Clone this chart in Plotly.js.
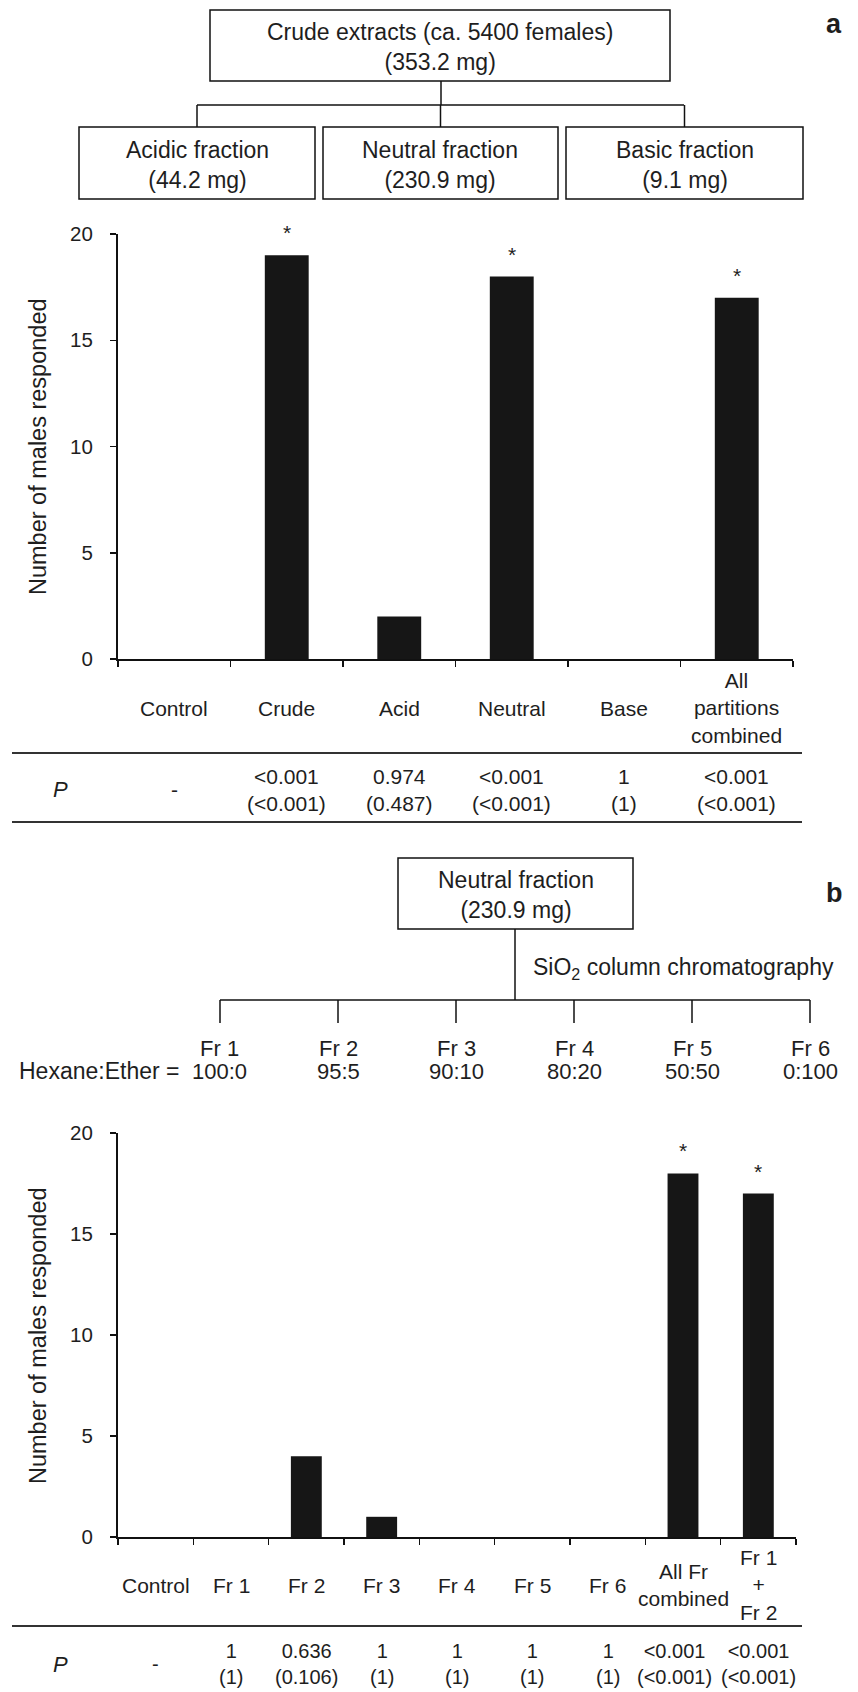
<!DOCTYPE html>
<html>
<head>
<meta charset="utf-8">
<script src="https://cdn.plot.ly/plotly-3.0.1.min.js"></script>
<style>html,body{margin:0;padding:0;background:#fff;}#chart{width:858px;height:1692px;}</style>
</head>
<body>
<div id="chart"></div>
<script>
// ---------- DATA ----------
// Panel a
const catsA = ['Control', 'Crude', 'Acid', 'Neutral', 'Base', 'All partitions combined'];
const labelsA = ['Control', 'Crude', 'Acid', 'Neutral', 'Base', 'All<br>partitions<br>combined'];
const valsA = [0, 19, 2, 18, 0, 17];
const sigA = ['', '*', '', '*', '', '*'];
const pA = ['-', '<0.001', '0.974', '<0.001', '1', '<0.001'];
const pAadj = ['', '(<0.001)', '(0.487)', '(<0.001)', '(1)', '(<0.001)'];
const topBoxA = ['Crude extracts (ca. 5400 females)', '(353.2 mg)'];
const subBoxesA = [['Acidic fraction', '(44.2 mg)'], ['Neutral fraction', '(230.9 mg)'], ['Basic fraction', '(9.1 mg)']];

// Panel b
const catsB = ['Control', 'Fr 1', 'Fr 2', 'Fr 3', 'Fr 4', 'Fr 5', 'Fr 6', 'All Fr combined', 'Fr 1 + Fr 2'];
const labelsB = ['Control', 'Fr 1', 'Fr 2', 'Fr 3', 'Fr 4', 'Fr 5', 'Fr 6', 'All Fr<br>combined', 'Fr 1<br>+<br>Fr 2'];
const valsB = [0, 0, 4, 1, 0, 0, 0, 18, 17];
const sigB = ['', '', '', '', '', '', '', '*', '*'];
const pB = ['-', '1', '0.636', '1', '1', '1', '1', '<0.001', '<0.001'];
const pBadj = ['', '(1)', '(0.106)', '(1)', '(1)', '(1)', '(1)', '(<0.001)', '(<0.001)'];
const topBoxB = ['Neutral fraction', '(230.9 mg)'];
const fractions = ['Fr 1', 'Fr 2', 'Fr 3', 'Fr 4', 'Fr 5', 'Fr 6'];
const solvents = ['100:0', '95:5', '90:10', '80:20', '50:50', '0:100'];

// ---------- LAYOUT HELPERS ----------
const W = 858, H = 1692;
const px = x => x / W;
const py = y => 1 - y / H;
const FONT = '"Liberation Sans", Arial, Helvetica, sans-serif';
const TXT = '#1e1e1e';
const esc = s => s.replace(/</g, '&lt;');

const shapes = [];
const annotations = [];
function line(x0, y0, x1, y1, w, c) {
  shapes.push({type: 'line', xref: 'paper', yref: 'paper', x0: px(x0), y0: py(y0), x1: px(x1), y1: py(y1),
    line: {color: c || '#111', width: w || 1.5}});
}
function rect(x0, y0, x1, y1) {
  shapes.push({type: 'rect', xref: 'paper', yref: 'paper', x0: px(x0), y0: py(y0), x1: px(x1), y1: py(y1),
    line: {color: '#111', width: 1.5}, fillcolor: 'rgba(0,0,0,0)'});
}
function text(t, x, y, opts) {
  opts = opts || {};
  annotations.push(Object.assign({text: t, xref: 'paper', yref: 'paper', x: px(x), y: py(y), showarrow: false,
    xanchor: 'center', yanchor: 'middle', font: {family: FONT, size: opts.size || 21, color: TXT}}, opts.extra || {}));
}

// ---------- PANEL a diagram ----------
rect(210, 10, 670, 81);
text(topBoxA.join('<br>'), 440, 47, {size: 23});
line(441, 81, 441, 105);
line(197, 105, 684, 105);
const subX = [[79, 315], [323, 558], [566, 803]];
subX.forEach((b, i) => {
  const cx = (b[0] + b[1]) / 2;
  line(cx, 105, cx, 127);
  rect(b[0], 127, b[1], 199);
  text(subBoxesA[i].join('<br>'), cx, 165, {size: 23});
});
text('<b>a</b>', 834, 24, {size: 27});

// ---------- PANEL b diagram ----------
rect(398, 858, 633, 929);
text(topBoxB.join('<br>'), 515.5, 895, {size: 23});
line(515, 929, 515, 1000);
text('SiO<sub>2</sub> column chromatography', 531, 969, {size: 23, extra: {xanchor: 'left'}});
const fracX = [220, 338, 456, 574, 692, 810];
line(fracX[0], 1000, fracX[fracX.length - 1], 1000);
fracX.forEach((x, i) => {
  line(x, 1000, x, 1023);
  text(fractions[i], x, 1048, {size: 22});
  text(solvents[i], x, 1071, {size: 22});
});
text('Hexane:Ether =', 181, 1071, {size: 23, extra: {xanchor: 'right'}});
text('<b>b</b>', 834, 893, {size: 27});

// ---------- Tables ----------
line(12, 753, 802, 753, 2, '#333');
line(12, 822, 802, 822, 2, '#333');
line(12, 1626, 802, 1626, 2, '#333');
text('<i>P</i>', 60, 789, {size: 22});
text('<i>P</i>', 60, 1664, {size: 22});

function panelAnnotations(cats, labels, vals, sig, p, padj, xa, ya, labelY, pY, pSize, pShift) {
  cats.forEach((c, i) => {
    annotations.push({text: labels[i], xref: xa, yref: 'paper', x: c, y: py(labelY), showarrow: false,
      xanchor: 'center', yanchor: 'middle', font: {family: FONT, size: 21, color: TXT}});
    const pt = padj[i] ? esc(p[i]) + '<br>' + esc(padj[i]) : esc(p[i]);
    annotations.push({text: pt, xref: xa, yref: 'paper', x: c, y: py(pY), showarrow: false,
      xanchor: 'center', yanchor: 'middle', xshift: pShift[i] || 0,
      font: {family: FONT, size: pSize, color: TXT}});
    if (sig[i]) {
      annotations.push({text: sig[i], xref: xa, yref: ya, x: c, y: vals[i], showarrow: false,
        xanchor: 'center', yanchor: 'bottom', yshift: 9, font: {family: FONT, size: 21, color: TXT}});
    }
  });
}
panelAnnotations(catsA, labelsA, valsA, sigA, pA, pAadj, 'x', 'y', 708, 790, 21, []);
panelAnnotations(catsB, labelsB, valsB, sigB, pB, pBadj, 'x2', 'y2', 1585, 1664, 20, [0, 0, 0, 0, 0, 0, 0, -9, 0]);

// y-axis titles
text('Number of males responded', 38, 447, {size: 23.5, extra: {textangle: -90}});
text('Number of males responded', 38, 1336, {size: 23.5, extra: {textangle: -90}});

// ---------- TRACES ----------
const traces = [
  {type: 'bar', x: catsA, y: valsA, xaxis: 'x', yaxis: 'y', width: 0.39,
    marker: {color: '#161616', line: {width: 0}}, hoverinfo: 'skip'},
  {type: 'bar', x: catsB, y: valsB, xaxis: 'x2', yaxis: 'y2', width: 0.41,
    marker: {color: '#161616', line: {width: 0}}, hoverinfo: 'skip'}
];

function xAxis(cats, domain, anchor) {
  return {type: 'category', categoryorder: 'array', categoryarray: cats, range: [-0.5, cats.length - 0.5],
    domain: domain, anchor: anchor, showticklabels: false, tickson: 'boundaries', ticks: 'outside',
    ticklen: 6, tickwidth: 1.5, tickcolor: '#111', showline: true, linecolor: '#111', linewidth: 2,
    showgrid: false, zeroline: false, fixedrange: true};
}
function yAxis(domain, anchor) {
  return {range: [0, 20], tickvals: [0, 5, 10, 15, 20], domain: domain, anchor: anchor, ticks: 'outside',
    ticklen: 6, tickwidth: 1.5, tickcolor: '#111', showline: true, linecolor: '#111', linewidth: 2,
    showgrid: false, zeroline: false, ticklabelstandoff: 13,
    tickfont: {family: FONT, size: 20.5, color: TXT}, fixedrange: true};
}

const layout = {
  width: W, height: H,
  margin: {l: 0, r: 0, t: 0, b: 0},
  paper_bgcolor: '#fff', plot_bgcolor: '#fff',
  showlegend: false,
  font: {family: FONT, color: TXT},
  xaxis: xAxis(catsA, [px(118), px(793)], 'y'),
  yaxis: yAxis([py(659), py(234)], 'x'),
  xaxis2: xAxis(catsB, [px(118), px(796)], 'y2'),
  yaxis2: yAxis([py(1537), py(1133)], 'x2'),
  shapes: shapes,
  annotations: annotations
};

Plotly.newPlot('chart', traces, layout, {displayModeBar: false, staticPlot: true});
</script>
</body>
</html>
